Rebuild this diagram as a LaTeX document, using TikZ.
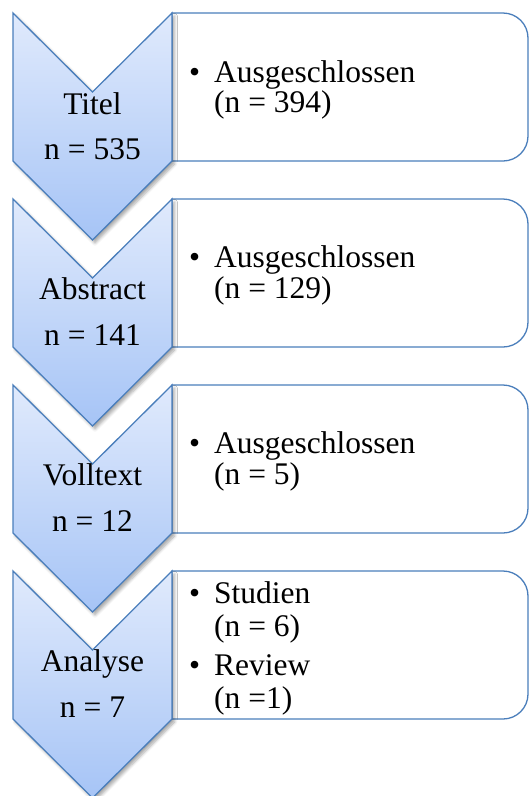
\documentclass[tikz,border=0pt]{standalone}
\usepackage{fontspec}
\setmainfont{Liberation Serif}
\usetikzlibrary{shadows.blur}
\definecolor{edgeblue}{HTML}{4A7EBB}
\definecolor{ctop}{HTML}{E0EAFC}
\definecolor{cbot}{HTML}{A6C4F6}
\tikzset{
  chev/.style={draw=edgeblue, line width=1.3pt, line join=miter, top color=ctop, bottom color=cbot,
    blur shadow={shadow xshift=2.5pt, shadow yshift=-3pt, shadow blur steps=6, shadow opacity=35, shadow blur radius=3pt}},
  listbox/.style={draw=edgeblue, line width=1.3pt, fill=white},
  ctext/.style={anchor=base, inner sep=0pt, font=\fontsize{31.5}{33}\selectfont},
  btext/.style={anchor=base west, inner sep=0pt, font=\fontsize{31.5}{33}\selectfont},
}
\newcommand{\chevstep}[1]{% #1 = top y
  \path[listbox] (172,#1) [rounded corners=25pt] -- (528,#1) -- (528,#1+148) [sharp corners] -- (172,#1+148) -- cycle;
  \path[chev] (13,#1) -- (92.5,#1+79) -- (172,#1) -- (172,#1+148) -- (92.5,#1+227) -- (13,#1+148) -- cycle;
}
\begin{document}
\begin{tikzpicture}[x=1pt,y=-1pt]
\useasboundingbox (0,0) rectangle (529,796);
% step 1
\chevstep{13}
\node[ctext] (t1) at (92.5,114) {Titel};
\node[ctext] (n1) at (92.5,159) {n = 535};
\node[btext] (b1) at (189,82) {•};
\node[btext] (a1) at (214,82) {Ausgeschlossen};
\node[btext] (e1) at (214,112) {(n = 394)};
% step 2
\chevstep{199}
\node[ctext] (t2) at (92.5,299.5) {Abstract};
\node[ctext] (n2) at (92.5,345.5) {n = 141};
\node[btext] (b2) at (189,267.5) {•};
\node[btext] (a2) at (214,267.5) {Ausgeschlossen};
\node[btext] (e2) at (214,298.5) {(n = 129)};
% step 3
\chevstep{385}
\node[ctext] (t3) at (92.5,485.5) {Volltext};
\node[ctext] (n3) at (92.5,531.5) {n = 12};
\node[btext] (b3) at (189,453.5) {•};
\node[btext] (a3) at (214,453.5) {Ausgeschlossen};
\node[btext] (e3) at (214,484.5) {(n = 5)};
% step 4
\chevstep{571}
\node[ctext] (t4) at (92.5,671.5) {Analyse};
\node[ctext] (n4) at (92.5,717.5) {n = 7};
\node[btext] (b4a) at (189,603) {•};
\node[btext] (s4) at (214,603) {Studien};
\node[btext] (s4n) at (214,636) {(n = 6)};
\node[btext] (b4b) at (189,675) {•};
\node[btext] (r4) at (214,675) {Review};
\node[btext] (r4n) at (214,708) {(n =1)};
\end{tikzpicture}
\end{document}
